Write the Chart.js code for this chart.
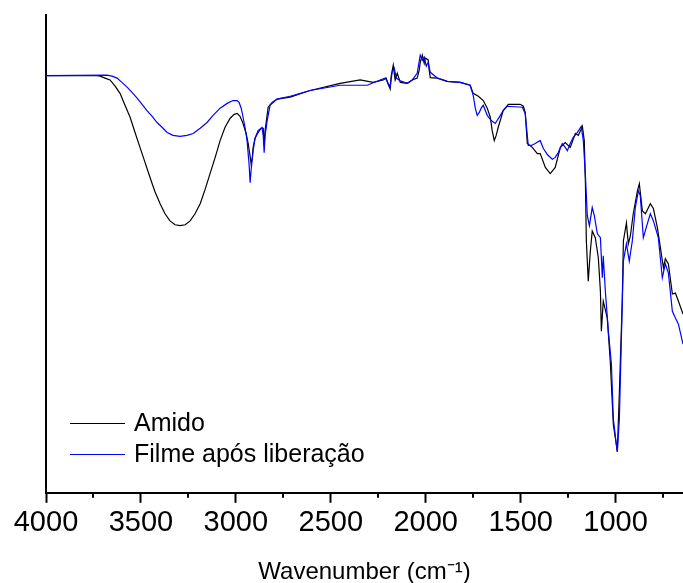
<!DOCTYPE html>
<html>
<head>
<meta charset="utf-8">
<script src="https://cdn.jsdelivr.net/npm/chart.js@4.4.1/dist/chart.umd.min.js"></script>
<style>
  html, body { margin: 0; padding: 0; background: #fff; }
  #wrap { width: 683px; height: 583px; }
</style>
</head>
<body>
<div id="wrap"><canvas id="myChart" width="683" height="583"></canvas></div>
<script>
// FTIR spectra, wavenumber (cm-1) vs transmittance (arbitrary units)
var amidoWn = [4000, 3731, 3715, 3689, 3663, 3636, 3610, 3584, 3557, 3531, 3505, 3478, 3452, 3426, 3399, 3373, 3347, 3320, 3294, 3267,
    3241, 3215, 3188, 3162, 3136, 3109, 3083, 3057, 3030, 3009, 2993, 2978, 2962, 2946, 2935, 2925, 2920, 2914, 2909, 2899,
    2883, 2867, 2856, 2851, 2846, 2830, 2809, 2783, 2714, 2609, 2451, 2345, 2277, 2224, 2208, 2198, 2187, 2182, 2171, 2161,
    2150, 2134, 2097, 2071, 2045, 2034, 2029, 2018, 2008, 2003, 1987, 1982, 1976, 1939, 1887, 1818, 1766, 1750, 1723, 1697,
    1676, 1660, 1650, 1639, 1629, 1618, 1592, 1565, 1502, 1486, 1476, 1465, 1439, 1412, 1397, 1370, 1344, 1318, 1291, 1265,
    1239, 1212, 1196, 1175, 1165, 1159, 1154, 1144, 1133, 1123, 1107, 1091, 1080, 1075, 1065, 1044, 1028, 1012, 996, 991,
    980, 965, 959, 943, 933, 922, 907, 885, 875, 859, 843, 817, 801, 780, 764, 748, 738, 722, 701, 685, 669, 645];
var amidoT = [87.3, 87.3, 87.2, 86.8, 86.4, 85.1, 83.6, 81.1, 78.6, 75.4, 72.3, 69.1, 66.0, 63.0, 60.5, 58.4, 56.9, 56.1, 55.9, 56.1,
    56.9, 58.4, 60.5, 63.5, 66.8, 70.2, 73.7, 76.5, 78.4, 79.2, 79.4, 78.8, 77.3, 75.2, 73.1, 70.4, 68.9, 70.0, 72.3, 74.2,
    75.4, 76.3, 76.3, 72.7, 75.8, 80.7, 81.7, 82.4, 82.8, 84.2, 85.7, 86.4, 85.9, 86.4, 86.8, 85.5, 84.5, 87.2, 89.5, 86.4,
    87.8, 85.9, 85.7, 86.4, 86.8, 88.5, 90.1, 91.6, 89.9, 91.0, 90.6, 88.5, 86.9, 86.8, 86.1, 85.9, 85.3, 83.6, 83.0, 82.1,
    80.5, 78.6, 75.8, 73.7, 74.8, 76.5, 80.0, 81.3, 81.3, 80.9, 79.6, 73.1, 72.3, 71.0, 71.0, 68.1, 66.8, 68.1, 72.3, 73.3,
    72.3, 75.2, 74.8, 76.7, 73.7, 64.7, 52.7, 44.3, 50.6, 54.8, 53.4, 49.2, 42.2, 33.8, 40.1, 36.6, 27.5, 14.3, 10.1, 8.6,
    21.2, 40.1, 52.7, 56.5, 52.1, 53.8, 58.4, 63.2, 64.7, 59.0, 58.4, 60.5, 59.5, 55.5, 51.3, 47.1, 49.0, 47.9, 41.6, 41.8, 40.1, 37.4];

var filmeWn = [4000, 3679, 3652, 3626, 3600, 3573, 3547, 3520, 3494, 3468, 3441, 3415, 3389, 3362, 3331, 3294, 3257, 3225, 3188, 3152,
    3120, 3083, 3046, 3015, 2993, 2983, 2972, 2962, 2951, 2941, 2930, 2925, 2920, 2909, 2899, 2883, 2862, 2856, 2851, 2846,
    2835, 2820, 2783, 2714, 2609, 2451, 2308, 2240, 2213, 2198, 2187, 2177, 2166, 2155, 2134, 2097, 2071, 2045, 2029, 2018,
    2008, 1997, 1987, 1976, 1939, 1887, 1818, 1766, 1750, 1739, 1729, 1718, 1708, 1697, 1676, 1655, 1634, 1607, 1592, 1571,
    1491, 1476, 1460, 1444, 1423, 1407, 1397, 1381, 1360, 1333, 1318, 1302, 1281, 1265, 1254, 1239, 1223, 1202, 1181, 1170,
    1159, 1149, 1138, 1123, 1112, 1096, 1080, 1070, 1065, 1054, 1038, 1022, 1012, 996, 991, 980, 965, 959, 943, 928,
    912, 896, 880, 870, 854, 833, 817, 801, 775, 754, 738, 722, 701, 685, 669, 645];
var filmeT = [87.3, 87.4, 87.2, 86.8, 85.9, 84.9, 83.8, 82.6, 81.3, 80.0, 78.8, 77.5, 76.5, 75.4, 74.8, 74.6, 74.8, 75.2, 76.3, 77.5,
    79.0, 80.5, 81.5, 82.1, 82.1, 81.7, 80.5, 78.6, 76.3, 73.7, 68.5, 64.9, 67.4, 71.6, 74.2, 75.8, 76.5, 74.8, 71.2, 74.8,
    77.9, 81.1, 82.4, 83.0, 84.2, 85.3, 85.3, 86.4, 86.8, 85.7, 85.1, 88.0, 88.9, 86.8, 86.2, 85.7, 86.4, 87.8, 91.6, 90.5,
    91.2, 89.3, 90.1, 88.0, 86.8, 86.1, 85.9, 85.3, 83.2, 80.5, 79.0, 79.6, 80.5, 81.1, 79.0, 77.9, 77.3, 79.0, 80.0, 80.9,
    80.7, 79.4, 72.7, 72.7, 73.1, 73.5, 73.7, 72.1, 70.8, 69.8, 70.2, 71.2, 73.1, 72.3, 71.6, 73.1, 74.4, 75.4, 76.7, 73.7,
    66.4, 58.0, 55.9, 59.7, 58.0, 54.2, 53.4, 45.0, 49.6, 42.2, 33.8, 26.9, 15.5, 10.1, 8.6, 15.5, 39.5, 48.5, 52.1, 48.5,
    52.7, 59.7, 63.2, 62.2, 53.4, 56.3, 58.4, 56.9, 53.4, 45.0, 47.9, 46.0, 38.0, 36.6, 35.3, 31.1];

var seriesNames = ['Amido', 'Filme após liberação'];
var majorTicks = [1000, 1500, 2000, 2500, 3000, 3500, 4000];
var minorTicks = [750, 1250, 1750, 2250, 2750, 3250, 3750];
var xTitle = 'Wavenumber (cm⁻¹)';

function toPoints(xs, ys) {
    return xs.map(function (x, i) { return { x: x, y: ys[i] }; });
}

var FONT = '"Liberation Sans", Arial, sans-serif';

// minor ticks and the legend inside the plot area
var extras = {
    id: 'extras',
    afterDraw: function (chart) {
        var ctx = chart.ctx;
        var xs = chart.scales.x;
        var bottom = chart.chartArea.bottom;
        ctx.save();
        ctx.strokeStyle = '#000';
        ctx.lineWidth = 2;
        minorTicks.forEach(function (v) {
            var px = Math.round(xs.getPixelForValue(v));
            ctx.beginPath();
            ctx.moveTo(px, bottom);
            ctx.lineTo(px, bottom + 5);
            ctx.stroke();
        });

        ctx.font = '25px ' + FONT;
        ctx.textBaseline = 'middle';
        ctx.fillStyle = '#000';
        chart.data.datasets.forEach(function (ds, i) {
            var y = 423 + i * 31;
            ctx.strokeStyle = ds.borderColor;
            ctx.lineWidth = 1.2;
            ctx.beginPath();
            ctx.moveTo(70, y + 0.5);
            ctx.lineTo(125, y + 0.5);
            ctx.stroke();
            ctx.fillText(ds.label, 134, y + 1);
        });
        ctx.restore();
    }
};

new Chart(document.getElementById('myChart'), {
    type: 'line',
    data: {
        datasets: [{
            label: seriesNames[0],
            data: toPoints(amidoWn, amidoT),
            borderColor: '#000000',
            borderWidth: 1.2,
            pointRadius: 0,
            tension: 0,
            order: 1
        }, {
            label: seriesNames[1],
            data: toPoints(filmeWn, filmeT),
            borderColor: '#0000ff',
            borderWidth: 1.2,
            pointRadius: 0,
            tension: 0,
            order: 0
        }]
    },
    options: {
        responsive: false,
        animation: false,
        layout: { padding: { left: 46, top: 15, right: 0, bottom: 0 } },
        plugins: {
            legend: { display: false },
            tooltip: { enabled: false }
        },
        scales: {
            x: {
                type: 'linear',
                reverse: true,
                min: 645,
                max: 4000,
                afterBuildTicks: function (axis) {
                    axis.ticks = majorTicks.map(function (v) { return { value: v }; });
                },
                grid: {
                    drawOnChartArea: false,
                    tickLength: 10,
                    tickWidth: 2,
                    tickColor: '#000'
                },
                border: { color: '#000', width: 2 },
                ticks: {
                    color: '#000',
                    padding: 3,
                    maxRotation: 0,
                    font: { family: FONT, size: 29 },
                    callback: function (v) { return String(v); }
                },
                title: {
                    display: true,
                    text: xTitle,
                    color: '#000',
                    padding: { top: 19, bottom: 0 },
                    font: { family: FONT, size: 24, lineHeight: 0.85 }
                }
            },
            y: {
                min: 0,
                max: 100,
                grid: { drawOnChartArea: false, drawTicks: false },
                border: { color: '#000', width: 2 },
                ticks: { display: false }
            }
        }
    },
    plugins: [extras]
});
</script>
</body>
</html>
